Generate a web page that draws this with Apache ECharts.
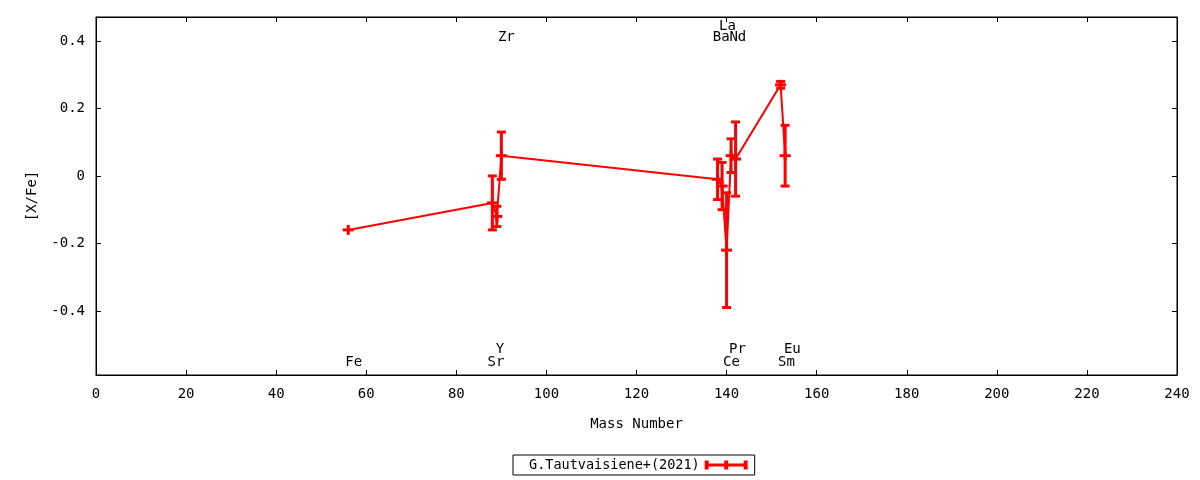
<!DOCTYPE html>
<html>
<head>
<meta charset="utf-8">
<script src="https://cdn.jsdelivr.net/npm/echarts@6/dist/echarts.min.js"></script>
<style>
html,body{margin:0;padding:0;background:#fff;}
#chart{width:1200px;height:480px;}
</style>
</head>
<body>
<div id="chart"></div>
<script>
// ---- data ----
const elements   = ['Fe', 'Sr', 'Y', 'Zr', 'Ba', 'La', 'Ce', 'Pr', 'Nd', 'Sm', 'Eu'];
const massNumber = [56, 88, 89, 90, 138, 139, 140, 141, 142, 152, 153];
const xFe        = [-0.16, -0.08, -0.12, 0.06, -0.01, -0.03, -0.22, 0.06, 0.05, 0.27, 0.06];
const xFeErr     = [0.00, 0.08, 0.03, 0.07, 0.06, 0.07, 0.17, 0.05, 0.11, 0.01, 0.09];

const labelNames = ['Fe', 'Sr', 'Y', 'Zr', 'Ba', 'La', 'Nd', 'Ce', 'Pr', 'Sm', 'Eu'];
const labelX     = [57.2, 88.8, 89.7, 91.1, 138.8, 140.2, 142.5, 141.1, 142.4, 153.3, 154.6];
const labelY     = [-0.554, -0.554, -0.513, 0.41, 0.41, 0.442, 0.41, -0.554, -0.513, -0.554, -0.513];

const xTicks = [0, 20, 40, 60, 80, 100, 120, 140, 160, 180, 200, 220, 240];
const yTicks = [-0.4, -0.2, 0, 0.2, 0.4];

const seriesName = 'G.Tautvaisiene+(2021)';
const FONT = 'DejaVu Sans Mono';
const FS = 14;
const RED = '#ff0000';

const pointData = massNumber.map((m, i) => [m, xFe[i], xFeErr[i]]);
const lineData = massNumber.map((m, i) => [m, xFe[i]]);
const labelData = labelNames.map((n, i) => [labelX[i], labelY[i], n]);

const chart = echarts.init(document.getElementById('chart'), null, {renderer: 'canvas'});

function axisLine() { return {show: true, onZero: false, lineStyle: {color: '#000', width: 1}}; }
function axisTick(vals) {
  const t = {show: true, inside: true, length: 5, lineStyle: {color: '#000', width: 1}};
  if (vals) t.customValues = vals;
  return t;
}

chart.setOption({
  animation: false,
  color: [RED],
  grid: {left: 96, right: 23, top: 17, bottom: 105, show: true, borderColor: '#000', borderWidth: 1, backgroundColor: 'transparent'},
  legend: {
    data: [{name: seriesName, icon: 'path://M0,3H43V6H0Z M0,0H4V9H0Z M39,0H43V9H39Z M19.5,0H23.5V9H19.5Z'}],
    left: 513, top: 455,
    align: 'right',
    itemWidth: 43, itemHeight: 9,
    borderColor: '#000', borderWidth: 1, borderRadius: 0,
    padding: [3, 7, 3, 16],
    textStyle: {fontFamily: FONT, fontSize: 13.5, color: '#000'},
    itemStyle: {color: RED}
  },
  xAxis: [
    {
      type: 'value', min: 0, max: 240, interval: 20, position: 'bottom',
      name: 'Mass Number', nameLocation: 'middle', nameGap: 42,
      nameTextStyle: {fontFamily: FONT, fontSize: FS, color: '#000'},
      axisLine: axisLine(), axisTick: axisTick(xTicks), splitLine: {show: false},
      axisLabel: {color: '#000', fontFamily: FONT, fontSize: FS, margin: 12, customValues: xTicks}
    },
    {
      type: 'value', min: 0, max: 240, interval: 20, position: 'top',
      axisLine: axisLine(), axisTick: axisTick(xTicks), splitLine: {show: false},
      axisLabel: {show: false}
    }
  ],
  yAxis: [
    {
      type: 'value', min: -0.59, max: 0.471, position: 'left',
      name: '[X/Fe]', nameLocation: 'middle', nameGap: 57, nameRotate: 90,
      nameTextStyle: {fontFamily: FONT, fontSize: FS, color: '#000'},
      axisLine: axisLine(), axisTick: axisTick(yTicks), splitLine: {show: false},
      axisLabel: {color: '#000', fontFamily: FONT, fontSize: FS, margin: 11,
        customValues: yTicks, formatter: v => String(Math.round(v * 10) / 10)}
    },
    {
      type: 'value', min: -0.59, max: 0.471, position: 'right',
      axisLine: axisLine(), axisTick: axisTick(yTicks), splitLine: {show: false},
      axisLabel: {show: false}
    }
  ],
  series: [
    {
      name: seriesName + ' line',
      type: 'line',
      xAxisIndex: 0, yAxisIndex: 0,
      data: lineData,
      symbol: 'none',
      lineStyle: {color: RED, width: 2},
      z: 2
    },
    {
      name: seriesName,
      type: 'custom',
      xAxisIndex: 0, yAxisIndex: 0,
      data: pointData,
      itemStyle: {color: RED},
      z: 3,
      renderItem: function (params, api) {
        const x = api.value(0), y = api.value(1), e = api.value(2);
        const c = api.coord([x, y]);
        const hi = api.coord([x, y + e]);
        const lo = api.coord([x, y - e]);
        const st = {stroke: RED, lineWidth: 3};
        const children = [];
        if (e > 0) {
          children.push({type: 'line', shape: {x1: c[0], y1: hi[1], x2: c[0], y2: lo[1]}, style: st});
          children.push({type: 'line', shape: {x1: c[0] - 4.5, y1: hi[1], x2: c[0] + 4.5, y2: hi[1]}, style: st});
          children.push({type: 'line', shape: {x1: c[0] - 4.5, y1: lo[1], x2: c[0] + 4.5, y2: lo[1]}, style: st});
        }
        children.push({type: 'line', shape: {x1: c[0] - 5.5, y1: c[1], x2: c[0] + 5.5, y2: c[1]}, style: st});
        children.push({type: 'line', shape: {x1: c[0], y1: c[1] - 5, x2: c[0], y2: c[1] + 5}, style: st});
        return {type: 'group', children: children};
      }
    },
    {
      name: 'labels',
      type: 'custom',
      xAxisIndex: 0, yAxisIndex: 0,
      data: labelData,
      z: 4,
      silent: true,
      renderItem: function (params, api) {
        const p = api.coord([api.value(0), api.value(1)]);
        return {
          type: 'text', x: p[0], y: p[1],
          style: {text: labelData[params.dataIndex][2], textAlign: 'center', textVerticalAlign: 'middle',
            font: FS + 'px "' + FONT + '"', fill: '#000'}
        };
      }
    }
  ]
});
</script>
</body>
</html>
